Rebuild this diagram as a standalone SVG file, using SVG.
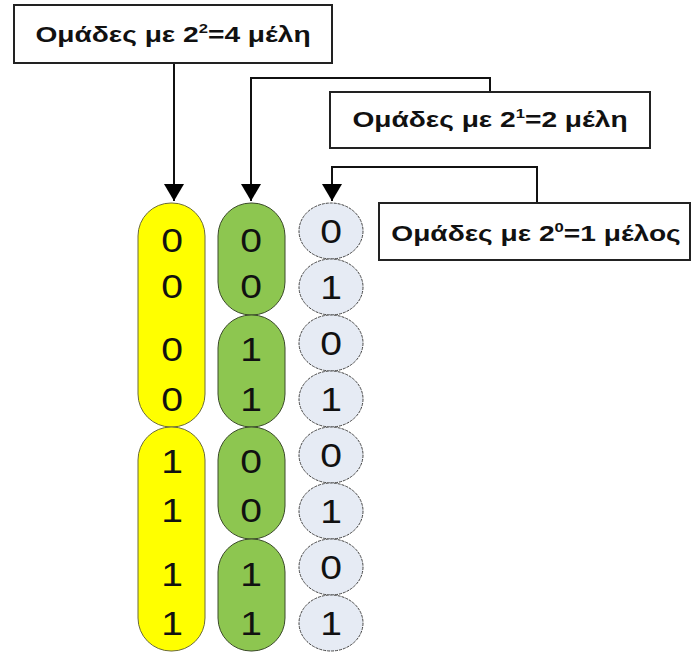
<svg xmlns="http://www.w3.org/2000/svg" width="692" height="656" viewBox="0 0 692 656">
<defs>
<style>
.box{fill:#fff;stroke:#222;stroke-width:2}
.lbl{font-family:"Liberation Sans",Arial,sans-serif;font-weight:bold;font-size:22px;fill:#111;text-anchor:middle}
.sup{font-size:13px}
.dg{font-family:"Liberation Sans",Arial,sans-serif;font-size:34px;fill:#111;text-anchor:middle}
.y{fill:#ffff00;stroke:#6b6b3a;stroke-width:1}
.g{fill:#8dc650;stroke:#3b4a2a;stroke-width:1}
.c{fill:#e6ebf4;stroke:#444;stroke-width:1;stroke-dasharray:3 1}
.ln{fill:none;stroke:#111;stroke-width:2}
</style>
<marker id="ah" markerWidth="20" markerHeight="18" refX="10" refY="17" orient="0" markerUnits="userSpaceOnUse">
<path d="M0,0 L20,0 L10,17 Z" fill="#000"/>
</marker>
</defs>
<g id="connectors">
<path class="ln" d="M174,63 V201" marker-end="url(#ah)"/>
<path class="ln" d="M490,92 V78 H251 V201" marker-end="url(#ah)"/>
<path class="ln" d="M537,203 V167 H332 V201" marker-end="url(#ah)"/>
</g>
<g id="label4">
<rect class="box" x="14" y="5" width="318" height="58"/>
<text class="lbl" transform="translate(173,42) scale(1.28,1)">Ομάδες με 2<tspan class="sup" dy="-9">2</tspan><tspan dy="9">=4 μέλη</tspan></text>
</g>
<g id="label2">
<rect class="box" x="330" y="92" width="320" height="56"/>
<text class="lbl" transform="translate(490,127) scale(1.28,1)">Ομάδες με 2<tspan class="sup" dy="-9">1</tspan><tspan dy="9">=2 μέλη</tspan></text>
</g>
<g id="label1">
<rect class="box" x="379" y="203" width="311" height="57"/>
<text class="lbl" transform="translate(536,241) scale(1.28,1)">Ομάδες με 2<tspan class="sup" dy="-9">0</tspan><tspan dy="9">=1 μέλος</tspan></text>
</g>
<g id="col4">
<rect class="y" x="138" y="203" width="67" height="224" rx="33"/>
<rect class="y" x="138" y="427" width="67" height="224" rx="33"/>
<g class="dg">
<text transform="translate(172,252) scale(1.15,1)">0</text>
<text transform="translate(172,298) scale(1.15,1)">0</text>
<text transform="translate(172,361) scale(1.15,1)">0</text>
<text transform="translate(172,411) scale(1.15,1)">0</text>
<text transform="translate(172,473) scale(1.15,1)">1</text>
<text transform="translate(172,522) scale(1.15,1)">1</text>
<text transform="translate(172,586) scale(1.15,1)">1</text>
<text transform="translate(172,635) scale(1.15,1)">1</text>
</g>
</g>
<g id="col2">
<rect class="g" x="218" y="203" width="67" height="112" rx="33"/>
<rect class="g" x="218" y="315" width="67" height="112" rx="33"/>
<rect class="g" x="218" y="427" width="67" height="112" rx="33"/>
<rect class="g" x="218" y="539" width="67" height="112" rx="33"/>
<g class="dg">
<text transform="translate(251,252) scale(1.15,1)">0</text>
<text transform="translate(251,298) scale(1.15,1)">0</text>
<text transform="translate(251,361) scale(1.15,1)">1</text>
<text transform="translate(251,411) scale(1.15,1)">1</text>
<text transform="translate(251,473) scale(1.15,1)">0</text>
<text transform="translate(251,522) scale(1.15,1)">0</text>
<text transform="translate(251,586) scale(1.15,1)">1</text>
<text transform="translate(251,635) scale(1.15,1)">1</text>
</g>
</g>
<g id="col1">
<ellipse class="c" cx="331" cy="231" rx="32" ry="28"/>
<ellipse class="c" cx="331" cy="287" rx="32" ry="28"/>
<ellipse class="c" cx="331" cy="343" rx="32" ry="28"/>
<ellipse class="c" cx="331" cy="399" rx="32" ry="28"/>
<ellipse class="c" cx="331" cy="455" rx="32" ry="28"/>
<ellipse class="c" cx="331" cy="511" rx="32" ry="28"/>
<ellipse class="c" cx="331" cy="567" rx="32" ry="28"/>
<ellipse class="c" cx="331" cy="623" rx="32" ry="28"/>
<g class="dg">
<text transform="translate(331,243) scale(1.15,1)">0</text>
<text transform="translate(331,299) scale(1.15,1)">1</text>
<text transform="translate(331,355) scale(1.15,1)">0</text>
<text transform="translate(331,411) scale(1.15,1)">1</text>
<text transform="translate(331,467) scale(1.15,1)">0</text>
<text transform="translate(331,523) scale(1.15,1)">1</text>
<text transform="translate(331,579) scale(1.15,1)">0</text>
<text transform="translate(331,635) scale(1.15,1)">1</text>
</g>
</g>
</svg>
